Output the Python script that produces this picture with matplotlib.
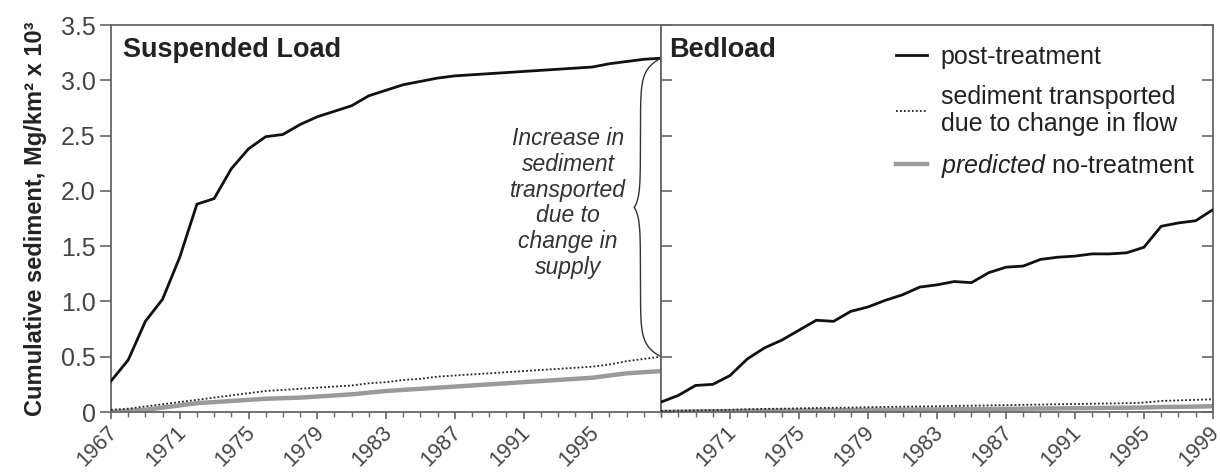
import numpy as np
import matplotlib
matplotlib.use('Agg')
import matplotlib.pyplot as plt
import matplotlib.transforms as mtransforms
from matplotlib.ticker import MultipleLocator, FixedLocator
from matplotlib.lines import Line2D

plt.rcParams['font.family'] = ['Liberation Sans', 'DejaVu Sans']
plt.rcParams['mathtext.fontset'] = 'custom'
plt.rcParams['mathtext.it'] = 'Liberation Sans:italic'
plt.rcParams['mathtext.rm'] = 'Liberation Sans'

years = list(range(1967, 2000))

# suspended load, Mg/km2 x 10^3
susp_post = [0.28, 0.47, 0.82, 1.02, 1.40, 1.88, 1.93, 2.20, 2.38, 2.49, 2.51,
             2.60, 2.67, 2.72, 2.77, 2.86, 2.91, 2.96, 2.99, 3.02, 3.04, 3.05,
             3.06, 3.07, 3.08, 3.09, 3.10, 3.11, 3.12, 3.15, 3.17, 3.19, 3.20]
susp_flow = [0.02, 0.03, 0.05, 0.07, 0.09, 0.11, 0.13, 0.15, 0.17, 0.19, 0.20,
             0.21, 0.22, 0.23, 0.24, 0.26, 0.27, 0.29, 0.30, 0.32, 0.33, 0.34,
             0.35, 0.36, 0.37, 0.38, 0.39, 0.40, 0.41, 0.43, 0.46, 0.48, 0.50]
susp_pred = [0.00, 0.01, 0.02, 0.04, 0.06, 0.08, 0.09, 0.10, 0.11, 0.12, 0.125,
             0.13, 0.14, 0.15, 0.16, 0.175, 0.19, 0.20, 0.21, 0.22, 0.23, 0.24,
             0.25, 0.26, 0.27, 0.28, 0.29, 0.30, 0.31, 0.33, 0.35, 0.36, 0.37]

# bedload
bed_post = [0.09, 0.15, 0.24, 0.25, 0.33, 0.48, 0.58, 0.65, 0.74, 0.83, 0.82,
            0.91, 0.95, 1.01, 1.06, 1.13, 1.15, 1.18, 1.17, 1.26, 1.31, 1.32,
            1.38, 1.40, 1.41, 1.43, 1.43, 1.44, 1.49, 1.68, 1.71, 1.73, 1.83]
bed_flow = [0.010, 0.012, 0.015, 0.018, 0.020, 0.025, 0.028, 0.030, 0.033, 0.036,
            0.038, 0.040, 0.043, 0.046, 0.048, 0.050, 0.052, 0.055, 0.057, 0.060,
            0.062, 0.065, 0.067, 0.070, 0.072, 0.075, 0.077, 0.080, 0.085, 0.100,
            0.105, 0.110, 0.115]
bed_pred = [0.000, 0.002, 0.004, 0.006, 0.008, 0.010, 0.011, 0.012, 0.013, 0.014,
            0.015, 0.016, 0.018, 0.019, 0.020, 0.022, 0.023, 0.025, 0.026, 0.027,
            0.029, 0.030, 0.032, 0.033, 0.035, 0.036, 0.038, 0.039, 0.041, 0.045,
            0.047, 0.049, 0.052]

yticks = [0, 0.5, 1.0, 1.5, 2.0, 2.5, 3.0, 3.5]
ytick_labels = ['0', '0.5', '1.0', '1.5', '2.0', '2.5', '3.0', '3.5']
left_xlabels = [1967, 1971, 1975, 1979, 1983, 1987, 1991, 1995]
right_xlabels = [1971, 1975, 1979, 1983, 1987, 1991, 1995, 1999]

fs = 18
xfs = 15.5
tick_col = '#444444'
spine_col = '#666666'
gray = '#9a9a9a'

fig = plt.figure(figsize=(12.21, 4.72), dpi=100)
axL = fig.add_axes([0.0909, 0.1271, 0.4505, 0.8199])
axR = fig.add_axes([0.5414, 0.1271, 0.4520, 0.8199])


def draw(ax, post, flow, pred):
    ax.plot(years, pred, color=gray, lw=3.2, solid_capstyle='butt', zorder=2)
    ax.plot(years, flow, color='#222222', lw=1.3, ls=(0, (1, 1.2)), zorder=3)
    ax.plot(years, post, color='#111111', lw=2.0, zorder=4)
    ax.set_xlim(1967, 1999)
    ax.set_ylim(0, 3.5)
    for s in ax.spines.values():
        s.set_color(spine_col)
        s.set_linewidth(1.3)
    ax.xaxis.set_minor_locator(MultipleLocator(1))
    ax.tick_params(axis='x', which='major', direction='out', length=5, width=1.2,
                   color=spine_col, labelsize=xfs, labelcolor=tick_col, pad=2)
    ax.tick_params(axis='x', which='minor', direction='out', length=3.5, width=1.0,
                   color=spine_col)


draw(axL, susp_post, susp_flow, susp_pred)
draw(axR, bed_post, bed_flow, bed_pred)

shift = mtransforms.ScaledTranslation(-4 / 100, 0, fig.dpi_scale_trans)
axL.xaxis.set_major_locator(FixedLocator(left_xlabels))
axL.set_xticklabels([str(v) for v in left_xlabels], rotation=45, ha='right',
                    va='top', rotation_mode='anchor')
axR.xaxis.set_major_locator(FixedLocator(right_xlabels))
axR.set_xticklabels([str(v) for v in right_xlabels], rotation=45, ha='right',
                    va='top', rotation_mode='anchor')
for lab in axL.get_xticklabels() + axR.get_xticklabels():
    lab.set_transform(lab.get_transform() + shift)

axL.set_yticks(yticks)
axL.set_yticklabels(ytick_labels)
axL.tick_params(axis='y', direction='out', length=8, width=1.2, color=spine_col,
                labelsize=fs, labelcolor=tick_col, pad=3)
axL.set_ylabel('Cumulative sediment, Mg/km² x 10³', fontsize=17, fontweight='bold',
               color='#222222', labelpad=10)

axR.set_yticks(yticks)
axR.tick_params(axis='y', which='major', direction='in', length=8, width=1.2,
                color=spine_col, left=True, right=True, labelleft=False)

axL.text(0.022, 0.935, 'Suspended Load', transform=axL.transAxes, fontsize=19.5,
         fontweight='bold', color='#222222', va='center', ha='left')
axR.text(0.014, 0.935, 'Bedload', transform=axR.transAxes, fontsize=19.5,
         fontweight='bold', color='#222222', va='center', ha='left')

# curly brace between the post-treatment end and the flow end
top = susp_post[-1]
bot = susp_flow[-1]
mid = (top + bot) / 2
x0, xb, xt = 1999.0, 1997.8, 1997.45
s = np.linspace(0, 1, 200)
g = 1 - np.exp(-(1 - s) / 0.07)
h = np.exp(-s / 0.07)
xs = x0 - (x0 - xb) * g - (xb - xt) * h
yu = mid + s * (top - mid)
yl = mid - s * (mid - bot)
axL.plot(xs, yu, color='#333333', lw=1.0, zorder=5, clip_on=False)
axL.plot(xs, yl, color='#333333', lw=1.0, zorder=5, clip_on=False)

axL.text(1993.6, 1.89, 'Increase in\nsediment\ntransported\ndue to\nchange in\nsupply',
         fontsize=16.5, style='italic', color='#333333', ha='center', va='center',
         linespacing=1.15)

# legend
handles = [Line2D([], [], color='#111111', lw=2.0),
           Line2D([], [], color='#222222', lw=1.3, ls=(0, (1, 1.2))),
           Line2D([], [], color=gray, lw=3.2)]
labels = ['post-treatment', 'sediment transported\ndue to change in flow',
          '$\\it{predicted}$ no-treatment']
leg = axR.legend(handles, labels, loc='upper left', bbox_to_anchor=(0.425, 0.948),
                 frameon=False, fontsize=fs, handlelength=1.25, handletextpad=0.55,
                 borderpad=0, borderaxespad=0, labelspacing=0.62)
for t in leg.get_texts():
    t.set_color('#222222')

fig.savefig('out.png', dpi=100)
